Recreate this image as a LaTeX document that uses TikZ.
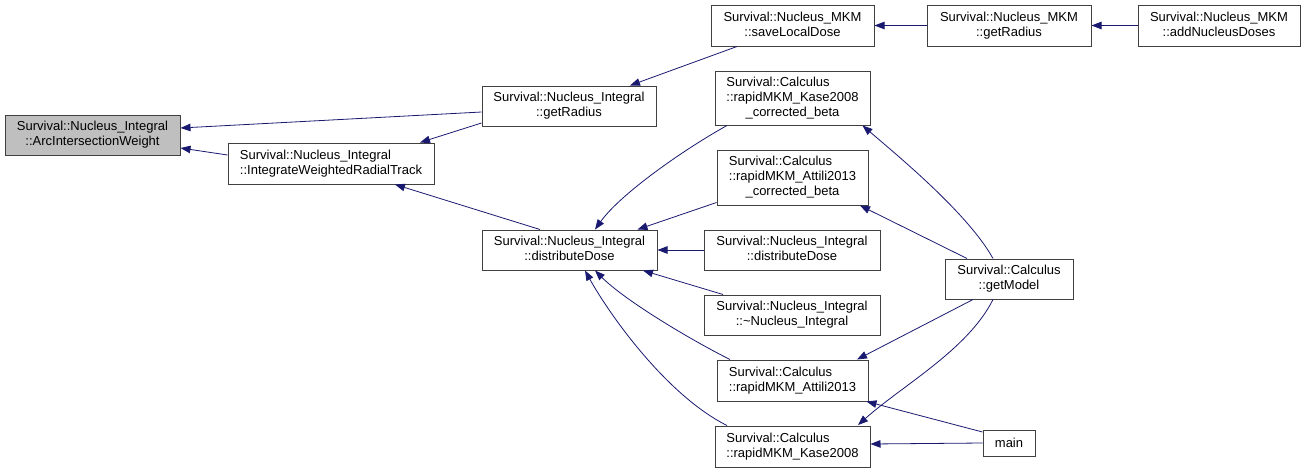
\documentclass[tikz,border=0pt]{standalone}
\usepackage{fontspec}
\setmainfont{Liberation Sans}
\usetikzlibrary{arrows.meta,calc}
\definecolor{grey25}{HTML}{404040}
\definecolor{grey75}{HTML}{BFBFBF}
\definecolor{midnight}{HTML}{191970}
\newcommand\lb[2]{\begin{tabular}{@{}l@{}}#1\\\multicolumn{1}{@{}c@{}}{#2}\end{tabular}}
\tikzset{
  fn/.style={draw=grey25, line width=1pt, fill=white, inner sep=0pt, minimum height=40pt,
    font=\fontsize{13}{15}\selectfont},
  cur/.style={fn, fill=grey75},
  edge/.style={draw=midnight, line width=0.8pt, -{Triangle[length=10pt,width=7.5pt]}}
}
\begin{document}
\begin{tikzpicture}[x=1pt,y=-1pt]
\useasboundingbox (0,0) rectangle (1307,472);
% nodes
\node[cur, minimum width=175pt] (arc) at (92.5,135) {\lb{Survival::Nucleus\_Integral}{::ArcIntersectionWeight}};
\node[fn, minimum width=206pt, minimum height=41pt] (iwrt) at (331,163.5) {\lb{Survival::Nucleus\_Integral}{::IntegrateWeightedRadialTrack}};
\node[fn, minimum width=174pt] (grNI) at (569,106) {\lb{Survival::Nucleus\_Integral}{::getRadius}};
\node[fn, minimum width=163pt, minimum height=41pt] (sld) at (792.5,25.5) {\lb{Survival::Nucleus\_MKM}{::saveLocalDose}};
\node[fn, minimum width=164pt, minimum height=41pt] (grMKM) at (1009,25.5) {\lb{Survival::Nucleus\_MKM}{::getRadius}};
\node[fn, minimum width=162pt, minimum height=41pt] (and) at (1219,25.5) {\lb{Survival::Nucleus\_MKM}{::addNucleusDoses}};
\node[fn, minimum width=155pt, minimum height=54pt] (kcb) at (792.5,98) {\lb{Survival::Calculus\\::rapidMKM\_Kase2008}{\_corrected\_beta}};
\node[fn, minimum width=151pt, minimum height=55pt] (acb) at (792.5,177.5) {\lb{Survival::Calculus\\::rapidMKM\_Attili2013}{\_corrected\_beta}};
\node[fn, minimum width=175pt] (dd) at (569.5,250) {\lb{Survival::Nucleus\_Integral}{::distributeDose}};
\node[fn, minimum width=176pt] (ddR) at (792,250) {\lb{Survival::Nucleus\_Integral}{::distributeDose}};
\node[fn, minimum width=176pt] (dtor) at (792,315) {\lb{Survival::Nucleus\_Integral}{::\textasciitilde Nucleus\_Integral}};
\node[fn, minimum width=128pt] (gm) at (1009,279) {\lb{Survival::Calculus}{::getModel}};
\node[fn, minimum width=151pt, minimum height=41pt] (att) at (792.5,380.5) {\lb{Survival::Calculus}{::rapidMKM\_Attili2013}};
\node[fn, minimum width=155pt, minimum height=41pt] (kase) at (792.5,446.5) {\lb{Survival::Calculus}{::rapidMKM\_Kase2008}};
\node[fn, minimum width=52pt, minimum height=26pt] (main) at (1009,443) {main};
% edges
\draw[edge] ([yshift=-6pt]grNI.west) -- ([yshift=7pt]arc.east);
\draw[edge] ([yshift=8.5pt]iwrt.west) -- ([yshift=-13pt]arc.east);
\draw[edge] ([yshift=-17pt]grNI.west) -- ([xshift=89pt]iwrt.north);
\draw[edge] ([xshift=-29.5pt]dd.north) -- ([xshift=64pt]iwrt.south);
\draw[edge] ([xshift=-55.5pt]sld.south) -- ([xshift=61pt]grNI.north);
\draw[edge] (grMKM.west) -- (sld.east);
\draw[edge] (and.west) -- (grMKM.east);
\draw[edge] ([xshift=-65.5pt]kcb.south) .. controls +(-45,25) and +(25,-35) .. ([xshift=25.5pt]dd.north);
\draw[edge] ([yshift=-25pt]acb.west) -- ([xshift=68pt]dd.north);
\draw[edge] (ddR.west) -- (dd.east);
\draw[edge] ([xshift=-69pt]dtor.north) -- ([xshift=73.5pt]dd.south);
\draw[edge] ([xshift=-62.5pt]att.north) .. controls +(-40,-20) and +(30,30) .. ([xshift=25.5pt]dd.south);
\draw[edge] ([xshift=-65.5pt]kase.north) .. controls +(-60,-30) and +(25,45) .. ([xshift=15.5pt]dd.south);
\draw[edge] ([xshift=-16pt]gm.north) .. controls +(-25,-45) and +(35,30) .. ([xshift=70pt]kcb.south);
\draw[edge] ([xshift=-42pt]gm.north) -- ([xshift=67.5pt]acb.south);
\draw[edge] ([xshift=-36pt]gm.south) -- ([xshift=64.5pt]att.north);
\draw[edge] ([xshift=-16pt]gm.south) .. controls +(-25,50) and +(45,-40) .. ([xshift=65.5pt,yshift=0.5pt]kase.north);
\draw[edge] ([yshift=11pt]main.west) -- ([xshift=-2pt]att.south east);
\draw[edge] (main.west) -- ([yshift=2.5pt]kase.east);
\end{tikzpicture}
\end{document}
